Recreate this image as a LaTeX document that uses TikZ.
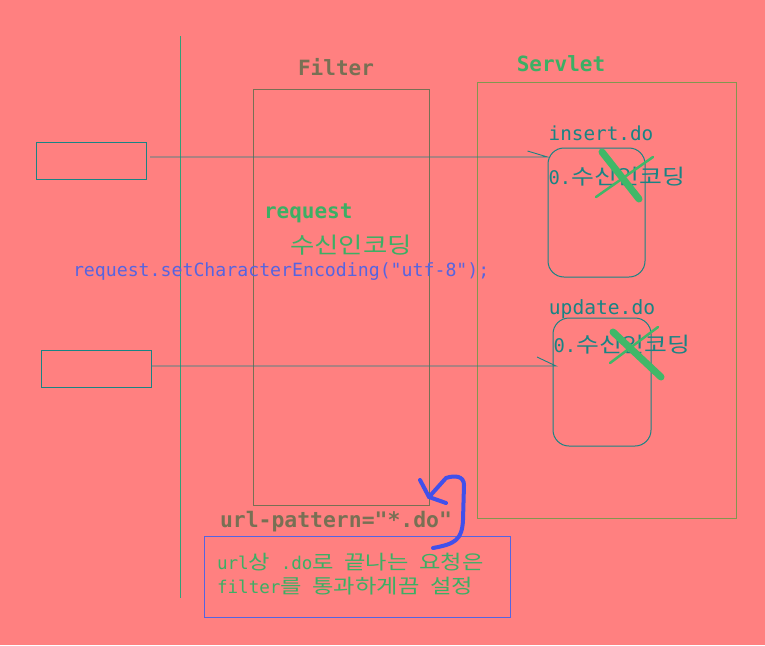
\documentclass[tikz,border=0pt]{standalone}
\usepackage{fontspec}
\setmainfont{DejaVu Sans Mono}[Ligatures=TeXOff]
\newfontfamily\kr[Scale=1.12,FakeStretch=1.18]{Noto Sans CJK KR}
\definecolor{bg}{RGB}{255,128,128}
\definecolor{tealc}{RGB}{24,132,132}
\definecolor{vline}{RGB}{50,160,120}
\definecolor{filterc}{RGB}{120,112,84}
\definecolor{servc}{RGB}{130,150,80}
\definecolor{greent}{RGB}{60,175,100}
\definecolor{bluet}{RGB}{85,100,225}
\definecolor{hookc}{RGB}{65,80,235}
\definecolor{xgreen}{RGB}{64,184,104}
\tikzset{
  txt/.style={inner sep=0pt, outer sep=0pt},
  clientbox/.style={draw=tealc, line width=1pt, minimum width=110pt, minimum height=37pt, inner sep=0pt},
  pagebox/.style={draw=tealc, line width=1pt, rounded corners=16pt, inner sep=0pt},
  conn/.style={draw=tealc, line width=0.9pt},
  xthick/.style={draw=xgreen, line width=7pt, line cap=round},
  xthin/.style={draw=xgreen, line width=2.5pt, line cap=round}
}
\begin{document}
\begin{tikzpicture}[x=1pt,y=-1pt]
\fill[bg] (0,0) rectangle (765,645);
\useasboundingbox (0,0) rectangle (765,645);
% vertical separator
\coordinate (vtop) at (180,36);
\coordinate (vbot) at (180,598);
\draw[vline, line width=1pt] (vtop) -- (vbot);
% filter and servlet frames
\node[draw=filterc, line width=0.9pt, minimum width=176pt, minimum height=416pt, inner sep=0pt] (filter) at (341,297) {};
\node[draw=servc, line width=0.9pt, minimum width=259pt, minimum height=436pt, inner sep=0pt] (servlet) at (606.5,300) {};
\node[txt, text=filterc, font=\bfseries\fontsize{21}{21}\selectfont] (ftitle) at (336,67) {Filter};
\node[txt, text=greent, font=\bfseries\fontsize{21}{21}\selectfont] (stitle) at (561,64) {Servlet};
% clients
\node[clientbox] (c1) at (91,160.5) {};
\node[clientbox] (c2) at (96,368.5) {};
% servlet pages
\node[pagebox, minimum width=97pt, minimum height=129pt] (ins) at (596.5,212.5) {};
\node[pagebox, minimum width=98pt, minimum height=128pt] (upd) at (602,382) {};
\node[txt, text=tealc, font=\fontsize{19.3}{19.3}\selectfont] (inslbl) at (601,133) {insert.do};
\node[txt, text=tealc, font=\fontsize{19.6}{19.6}\selectfont] (updlbl) at (602,309) {update.do};
\node[txt, text=tealc, font=\fontsize{18.8}{18.8}\selectfont] (ins0) at (617,177) {0.{\kr 수신인코딩}};
\node[txt, text=tealc, font=\fontsize{18.8}{18.8}\selectfont] (upd0) at (622,345) {0.{\kr 수신인코딩}};
% connectors
\coordinate (a1s) at (150,157);
\coordinate (a1e) at (ins.west |- a1s);
\draw[conn] (a1s) -- (a1e) -- ++(-20,-6);
\coordinate (a2s) at (152,366);
\coordinate (a2e) at (556,366);
\draw[conn] (a2s) -- (a2e) -- ++(-19,-9);
% filter texts
\node[txt, anchor=west, text=greent, font=\bfseries\fontsize{21}{21}\selectfont] (req) at (264,213) {request};
\node[txt, text=greent, font=\fontsize{20}{20}\selectfont] (enc) at (351,245) {{\kr 수신인코딩}};
\node[txt, anchor=west, text=bluet, font=\fontsize{18.2}{18.2}\selectfont] (code) at (73,272) {request.setCharacterEncoding("utf-8");};
% url pattern
\node[txt, text=filterc, font=\bfseries\fontsize{21.4}{21.4}\selectfont] (url) at (336,522) {url-pattern="*.do"};
\node[draw=bluet, line width=0.9pt, minimum width=306pt, minimum height=81pt, inner sep=0pt] (note) at (357,576.5) {};
\node[txt, anchor=west, text=greent, font=\fontsize{17.6}{17.6}\selectfont] (n1) at (217,562) {url{\kr 상} .do{\kr 로} {\kr 끝나는} {\kr 요청은}};
\node[txt, anchor=west, text=greent, font=\fontsize{17.6}{17.6}\selectfont] (n2) at (217,586) {filter{\kr 를} {\kr 통과하게끔} {\kr 설정}};
% hook arrow
\draw[hookc, line width=4pt, line cap=round, line join=round]
  (433,548) .. controls (455,544) and (462,540) .. (463,520)
  -- (464,485) .. controls (464,476) and (455,475) .. (446,478)
  -- (429,497);
\draw[hookc, line width=4pt, line cap=round, line join=round]
  (420,480) -- (429,497) -- (446,503);
% crossed-out marks
\draw[xthick] (602,152) -- (639,199);
\draw[xthin] (596,197) -- (653,157);
\draw[xthick] (613,332) -- (661,377);
\draw[xthin] (610,363) -- (658,327);
\end{tikzpicture}
\end{document}
